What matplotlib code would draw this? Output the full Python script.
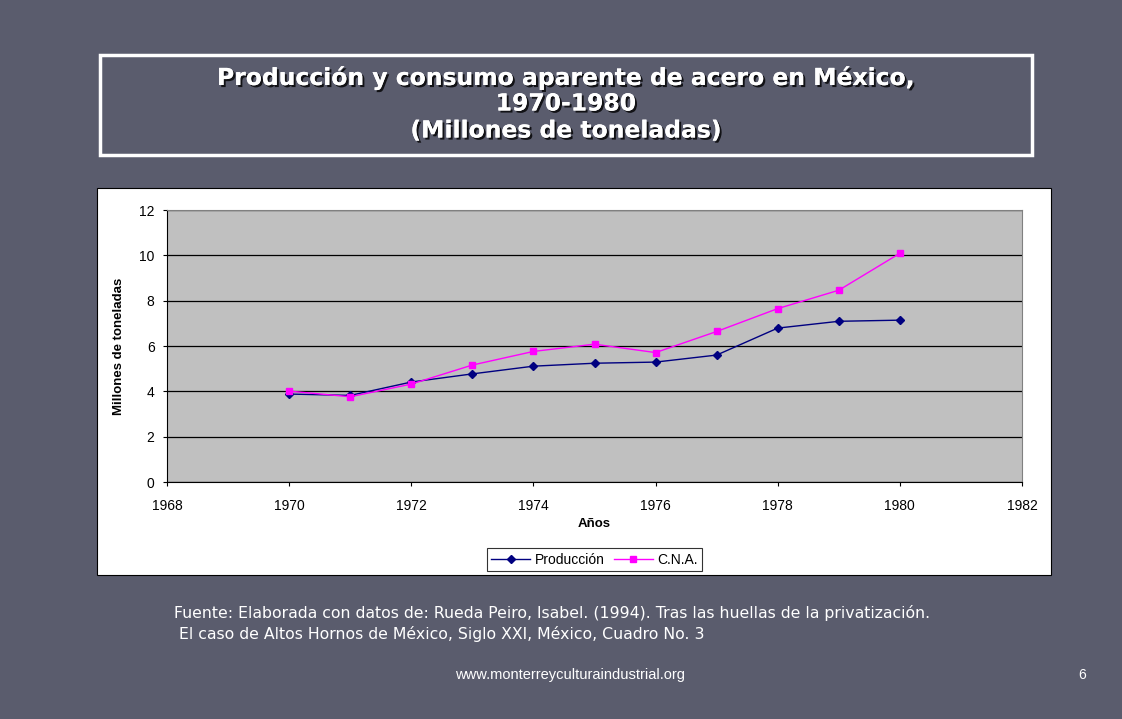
import matplotlib.pyplot as plt
import matplotlib.patheffects as pe
from matplotlib.patches import Rectangle

plt.rcParams['font.family'] = ['Liberation Sans', 'DejaVu Sans']

years = [1970, 1971, 1972, 1973, 1974, 1975, 1976, 1977, 1978, 1979, 1980]
produccion = [3.88, 3.82, 4.41, 4.77, 5.11, 5.24, 5.29, 5.60, 6.79, 7.09, 7.14]
cna = [4.01, 3.76, 4.32, 5.16, 5.76, 6.08, 5.71, 6.64, 7.65, 8.46, 10.09]

W, H = 1122, 719
bg = '#5a5c6d'

fig = plt.figure(figsize=(W/100, H/100), dpi=100, facecolor=bg)

def fx(x): return x / W
def fy(y): return 1 - y / H

# title box
fig.patches.append(Rectangle((fx(100), fy(155)), fx(1032) - fx(100), fy(55) - fy(155),
                             transform=fig.transFigure, fill=False, ec='white', lw=2.5))
shadow = [pe.withSimplePatchShadow(offset=(1.5, -1.5), shadow_rgbFace='black', alpha=0.8), pe.Normal()]
for txt, y in [('Producción y consumo aparente de acero en México,', 78),
               ('1970-1980', 104), ('(Millones de toneladas)', 131)]:
    fig.text(fx(566), fy(y), txt, ha='center', va='center', color='white',
             fontsize=16.9, fontweight='bold', family='DejaVu Sans', path_effects=shadow)

# white chart box
fig.patches.append(Rectangle((fx(97), fy(575)), fx(1051) - fx(97), fy(188) - fy(575),
                             transform=fig.transFigure, fc='white', ec='black', lw=0.8, zorder=0))

ax = fig.add_axes([fx(167), fy(482), fx(1022) - fx(167), fy(210) - fy(482)], zorder=2)
ax.set_facecolor('#c0c0c0')
ax.plot(years, produccion, color='#000080', marker='D', markersize=4.5, lw=1, label='Producción')
ax.plot(years, cna, color='#ff00ff', marker='s', markersize=4.5, lw=1, label='C.N.A.')
ax.set_xlim(1968, 1982)
ax.set_ylim(0, 12)
ax.set_xticks(range(1968, 1983, 2))
ax.set_yticks(range(0, 13, 2))
ax.grid(axis='y', color='black', lw=0.9)
ax.set_axisbelow(True)
for s in ['top', 'right']:
    ax.spines[s].set_color('#808080')
    ax.spines[s].set_linewidth(0.8)
ax.tick_params(labelsize=10, length=3, width=0.8)
ax.tick_params(axis='x', pad=9)
ax.tick_params(axis='y', pad=6)
ax.set_xlabel('Años', fontsize=9.5, fontweight='bold', labelpad=4)
ax.set_ylabel('Millones de toneladas', fontsize=9.5, fontweight='bold', labelpad=10)

leg = ax.legend(loc='center', bbox_to_anchor=(0.5, -0.285), ncol=2, fontsize=10,
                frameon=True, fancybox=False, edgecolor='black', handlelength=2.8,
                columnspacing=0.7, handletextpad=0.3, borderpad=0.3, markerscale=0.9)
leg.get_frame().set_linewidth(0.8)

fig.text(fx(174), fy(613), 'Fuente: Elaborada con datos de: Rueda Peiro, Isabel. (1994). Tras las huellas de la privatización.',
         color='white', fontsize=11.3, family='DejaVu Sans', va='center')
fig.text(fx(174), fy(634), ' El caso de Altos Hornos de México, Siglo XXI, México, Cuadro No. 3',
         color='white', fontsize=11.3, family='DejaVu Sans', va='center')
fig.text(fx(570), fy(675), 'www.monterreyculturaindustrial.org', color='white', fontsize=10.5,
         ha='center', va='center')
fig.text(fx(1082), fy(675), '6', color='white', fontsize=10, ha='center', va='center')

fig.savefig('out.png', dpi=100, facecolor=bg)
